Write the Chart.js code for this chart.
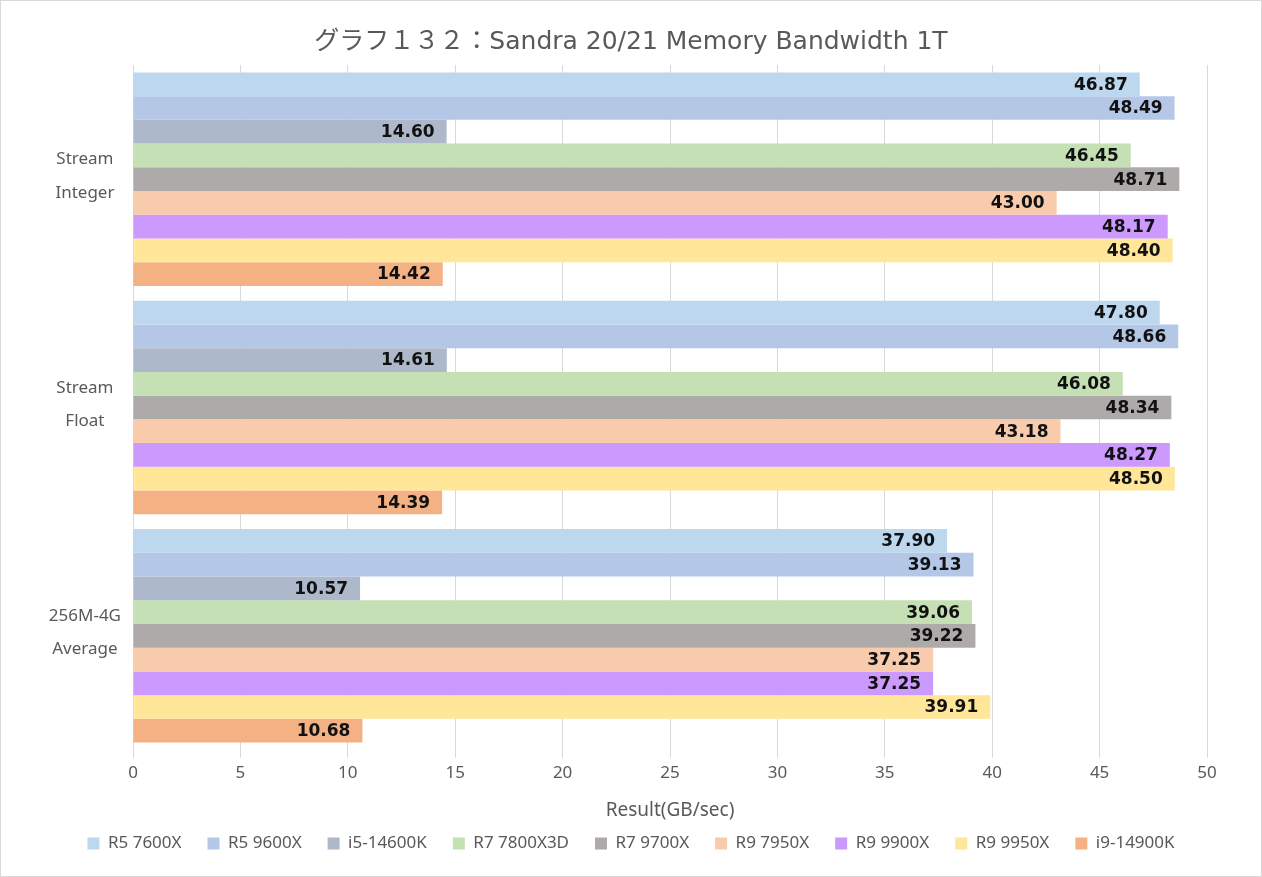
<!DOCTYPE html>
<html>
<head>
    <title>Sandra 20/21 Memory Bandwidth 1T</title>
    <script src="https://cdn.jsdelivr.net/npm/chart.js"></script>
    <style>
        body { margin: 0; background: #fff; }
        .wrap {
            width: 1262px;
            height: 877px;
            box-sizing: border-box;
            border: 1px solid #d9d9d9;
            background: #fff;
        }
    </style>
</head>
<body>
    <div class="wrap"><canvas id="chart"></canvas></div>

    <script>
        const categories = [['Stream', 'Integer'], ['Stream', 'Float'], ['256M-4G', 'Average']];
        const cpuNames = ['R5 7600X', 'R5 9600X', 'i5-14600K', 'R7 7800X3D', 'R7 9700X', 'R9 7950X', 'R9 9900X', 'R9 9950X', 'i9-14900K'];
        const cpuColors = ['#BDD7EE', '#B4C7E7', '#ADB9CA', '#C5E0B4', '#AEAAAA', '#F8CBAD', '#CC99FF', '#FFE699', '#F4B183'];

        // one array per CPU: [Stream Integer, Stream Float, 256M-4G Average]
        const r5_7600x  = [46.87, 47.80, 37.90];
        const r5_9600x  = [48.49, 48.66, 39.13];
        const i5_14600k = [14.60, 14.61, 10.57];
        const r7_7800x3d = [46.45, 46.08, 39.06];
        const r7_9700x  = [48.71, 48.34, 39.22];
        const r9_7950x  = [43.00, 43.18, 37.25];
        const r9_9900x  = [48.17, 48.27, 37.25];
        const r9_9950x  = [48.40, 48.50, 39.91];
        const i9_14900k = [14.42, 14.39, 10.68];
        const seriesValues = [r5_7600x, r5_9600x, i5_14600k, r7_7800x3d, r7_9700x, r9_7950x, r9_9900x, r9_9950x, i9_14900k];

        const xTicks = [0, 5, 10, 15, 20, 25, 30, 35, 40, 45, 50];

        const grayText = '#595959';
        const gridGray = '#d9d9d9';

        // value labels inside the end of each bar
        const barLabels = {
            id: 'barLabels',
            afterDatasetsDraw(chart) {
                const c = chart.ctx;
                c.save();
                c.font = 'bold 17px "DejaVu Sans"';
                c.fillStyle = '#111';
                c.textAlign = 'right';
                c.textBaseline = 'middle';
                chart.data.datasets.forEach((ds, i) => {
                    const meta = chart.getDatasetMeta(i);
                    meta.data.forEach((bar, j) => {
                        c.fillText(ds.data[j].toFixed(2), bar.x - 12, bar.y + 1);
                    });
                });
                c.restore();
            }
        };

        const ctx = document.getElementById('chart').getContext('2d');
        new Chart(ctx, {
            type: 'bar',
            data: {
                labels: categories,
                datasets: cpuNames.map((name, i) => ({
                    label: name,
                    data: seriesValues[i],
                    backgroundColor: cpuColors[i],
                    borderWidth: 0,
                    barPercentage: 1.0,
                    categoryPercentage: 0.935
                }))
            },
            options: {
                indexAxis: 'y',
                responsive: true,
                maintainAspectRatio: false,
                animation: false,
                layout: { padding: { left: 0, right: 0, top: 0, bottom: 14 } },
                scales: {
                    x: {
                        min: 0,
                        max: 50,
                        afterBuildTicks: s => { s.ticks = xTicks.map(v => ({ value: v })); },
                        grid: { color: gridGray, lineWidth: 1, tickLength: 8, tickColor: gridGray },
                        border: { display: false },
                        ticks: {
                            color: grayText,
                            font: { family: 'Noto Sans', size: 17 },
                            padding: 5
                        },
                        title: {
                            display: true,
                            text: 'Result(GB/sec)',
                            color: grayText,
                            font: { family: 'Noto Sans', size: 19 },
                            padding: { top: 0, bottom: -13 }
                        },
                        afterFit: s => { s.height = 59; }
                    },
                    y: {
                        grid: { display: false, drawTicks: false },
                        border: { display: false },
                        ticks: {
                            color: grayText,
                            font: { family: 'Noto Sans', size: 17, lineHeight: 1.95 },
                            crossAlign: 'center',
                            padding: 12,
                            labelOffset: -3
                        },
                        afterFit: s => { s.width = 132; }
                    },
                    // empty right-hand spacer so the plot ends at 50 while title/legend stay centred
                    spacer: {
                        type: 'category',
                        position: 'right',
                        grid: { display: false, drawTicks: false },
                        border: { display: false },
                        ticks: { display: false },
                        afterFit: s => { s.width = 54; }
                    }
                },
                plugins: {
                    title: {
                        display: true,
                        text: 'グラフ１３２：Sandra 20/21 Memory Bandwidth 1T',
                        color: grayText,
                        font: { family: '"DejaVu Sans", "Noto Sans CJK JP"', size: 25, weight: 'normal' },
                        padding: { top: 26, bottom: 8 }
                    },
                    legend: {
                        position: 'bottom',
                        labels: {
                            color: grayText,
                            font: { family: 'Noto Sans', size: 17 },
                            boxWidth: 12,
                            boxHeight: 12,
                            padding: 26
                        }
                    },
                    tooltip: { enabled: false }
                }
            },
            plugins: [barLabels]
        });
    </script>
</body>
</html>
